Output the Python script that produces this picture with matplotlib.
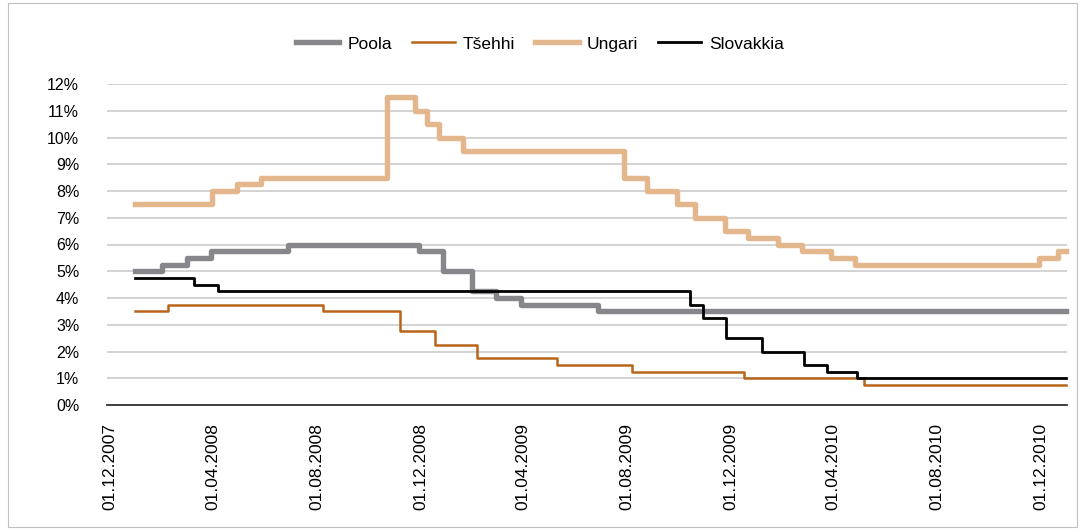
import matplotlib
matplotlib.use("Agg")
import matplotlib.pyplot as plt
import matplotlib.dates as mdates
import pandas as pd

plt.rcParams['font.family'] = ['Liberation Sans', 'DejaVu Sans']

# policy rates, % (step dates)
pl_dates = ['2007-12-31', '2008-02-01', '2008-03-01', '2008-03-29', '2008-06-28',
            '2008-11-29', '2008-12-27', '2009-01-31', '2009-02-28', '2009-03-29',
            '2009-06-28', '2010-12-31']
pl_rate = [5.00, 5.25, 5.50, 5.75, 6.00, 5.75, 5.00, 4.25, 4.00, 3.75, 3.50, 3.50]

cz_dates = ['2007-12-31', '2008-02-08', '2008-08-08', '2008-11-07', '2008-12-18',
            '2009-02-06', '2009-05-11', '2009-08-07', '2009-12-17', '2010-05-07',
            '2010-12-31']
cz_rate = [3.50, 3.75, 3.50, 2.75, 2.25, 1.75, 1.50, 1.25, 1.00, 0.75, 0.75]

hu_dates = ['2007-12-31', '2008-03-31', '2008-04-29', '2008-05-27', '2008-10-22',
            '2008-11-25', '2008-12-09', '2008-12-23', '2009-01-20', '2009-07-28',
            '2009-08-25', '2009-09-29', '2009-10-20', '2009-11-24', '2009-12-22',
            '2010-01-26', '2010-02-23', '2010-03-29', '2010-04-27', '2010-11-29',
            '2010-12-21', '2010-12-31']
hu_rate = [7.50, 8.00, 8.25, 8.50, 11.50, 11.00, 10.50, 10.00, 9.50, 8.50,
           8.00, 7.50, 7.00, 6.50, 6.25, 6.00, 5.75, 5.50, 5.25, 5.50,
           5.75, 5.75]

sk_dates = ['2007-12-31', '2008-03-09', '2008-04-07', '2009-10-14', '2009-10-29',
            '2009-11-26', '2010-01-07', '2010-02-25', '2010-03-25', '2010-04-29',
            '2010-12-31']
sk_rate = [4.75, 4.50, 4.25, 3.75, 3.25, 2.50, 2.00, 1.50, 1.25, 1.00, 1.00]

tick_dates = ['2007-12-01', '2008-04-01', '2008-08-01', '2008-12-01', '2009-04-01',
              '2009-08-01', '2009-12-01', '2010-04-01', '2010-08-01', '2010-12-01']

fig = plt.figure(figsize=(10.85, 5.29), dpi=100)
ax = fig.add_axes([107/1085, 1-405/529, 960/1085, 321/529])

series = [
    ('Poola', pl_dates, pl_rate, '#87878b', 3.9),
    ('Tšehhi', cz_dates, cz_rate, '#b8651b', 1.8),
    ('Ungari', hu_dates, hu_rate, '#e3b68c', 3.9),
    ('Slovakkia', sk_dates, sk_rate, '#000000', 2.0),
]
for name, d, v, c, lw in series:
    ax.plot(pd.to_datetime(d), v, drawstyle='steps-post', color=c, lw=lw,
            label=name, solid_capstyle='projecting', clip_on=False, zorder=3)

ax.set_ylim(0, 12)
ax.set_yticks(range(0, 13))
ax.set_yticklabels([f'{i}%' for i in range(0, 13)])
ax.set_xlim(pd.Timestamp('2007-11-28'), pd.Timestamp('2011-01-01'))
ax.set_xticks(pd.to_datetime(tick_dates))
ax.xaxis.set_major_formatter(mdates.DateFormatter('%d.%m.%Y'))
ax.tick_params(axis='x', length=0, pad=13, labelsize=12.5, labelrotation=90)
ax.tick_params(axis='y', length=0, pad=20, labelsize=11.5)
for lab in ax.get_yticklabels():
    lab.set_horizontalalignment('right')

ax.grid(axis='y', color='#c8c8c8', lw=1.1)
ax.set_axisbelow(True)
for s in ['top', 'right', 'left']:
    ax.spines[s].set_visible(False)
ax.spines['bottom'].set_color('#333333')
ax.spines['bottom'].set_linewidth(1.3)
ax.spines['bottom'].set_zorder(4)

fig.legend(loc='center', bbox_to_anchor=(540/1085, 1-44/529), ncol=4,
           frameon=False, fontsize=12.5, handlelength=2.5, handletextpad=0.45,
           columnspacing=1.15)

fig.add_artist(plt.Rectangle((8/1085, 2/529), 1069/1085, 524/529, fill=False,
                             edgecolor='#bfbfbf', lw=0.8, transform=fig.transFigure))

fig.savefig('out.png', dpi=100)
